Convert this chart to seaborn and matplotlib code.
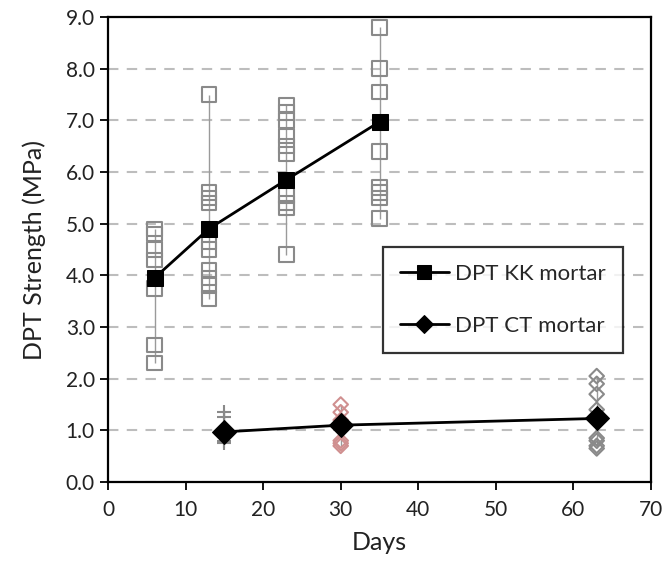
import matplotlib
matplotlib.use("Agg")
import matplotlib.pyplot as plt
import seaborn as sns
import pandas as pd
import numpy as np

# Individual DPT readings, KK mortar
kk_days = [6, 13, 23, 35]
kk_samples = [
    [4.9, 4.8, 4.5, 4.3, 3.75, 2.65, 2.3],
    [7.5, 5.6, 5.5, 5.4, 4.65, 4.5, 4.1, 3.95, 3.8, 3.55],
    [7.3, 7.15, 7.0, 6.7, 6.5, 6.35, 5.55, 5.4, 5.3, 4.4],
    [8.8, 8.0, 7.55, 6.4, 5.7, 5.6, 5.5, 5.1],
]
kk_mean = [3.95, 4.9, 5.85, 6.97]

# Individual DPT readings, CT mortar
ct_days = [15, 30, 63]
ct_samples = [
    [1.35, 1.25, 0.95, 0.8, 0.75],
    [1.5, 1.35, 1.2, 0.8, 0.75, 0.7],
    [2.05, 1.9, 1.7, 1.4, 1.25, 0.85, 0.8, 0.7, 0.65],
]
ct_mean = [0.97, 1.1, 1.23]
ct_colors = ["#8a8a8a", "#d09090", "#8a8a8a"]
ct_markers = ["+", "D", "D"]

y_ticks = [0, 1, 2, 3, 4, 5, 6, 7, 8, 9]
x_ticks = [0, 10, 20, 30, 40, 50, 60, 70]

sns.set_theme(style="white")
plt.rcParams["font.family"] = ["Lato", "DejaVu Sans"]

fig = plt.figure(figsize=(6.67, 5.65), dpi=100)
ax = fig.add_axes([108 / 667, 1 - 482 / 565, (651 - 108) / 667, (482 - 17) / 565])

# range lines behind each group of readings
for d, s in zip(kk_days, kk_samples):
    ax.vlines(d, min(s), max(s), color="#9a9a9a", lw=1.0, zorder=1)
for d, s in zip(ct_days, ct_samples):
    ax.vlines(d, min(s), max(s), color="#9a9a9a", lw=1.0, zorder=1)

kk_df = pd.DataFrame(
    [(d, v) for d, s in zip(kk_days, kk_samples) for v in s], columns=["Days", "DPT"]
)
sns.scatterplot(data=kk_df, x="Days", y="DPT", ax=ax, marker="s", s=110,
                facecolor="none", edgecolor="#8a8a8a", linewidth=1.5, zorder=2)

for d, s, c, m in zip(ct_days, ct_samples, ct_colors, ct_markers):
    df = pd.DataFrame({"Days": [d] * len(s), "DPT": s})
    if m == "+":
        sns.scatterplot(data=df, x="Days", y="DPT", ax=ax, marker="+", s=110,
                        color=c, linewidth=1.5, zorder=2)
    else:
        sns.scatterplot(data=df, x="Days", y="DPT", ax=ax, marker="D", s=55,
                        facecolor="none", edgecolor=c, linewidth=1.5, zorder=2)

kk_mean_df = pd.DataFrame({"Days": kk_days, "DPT": kk_mean})
ct_mean_df = pd.DataFrame({"Days": ct_days, "DPT": ct_mean})
sns.lineplot(data=kk_mean_df, x="Days", y="DPT", ax=ax, color="black", lw=2,
             marker="s", markersize=12, markeredgecolor="black",
             label="DPT KK mortar", zorder=3)
sns.lineplot(data=ct_mean_df, x="Days", y="DPT", ax=ax, color="black", lw=2,
             marker="D", markersize=12, markeredgecolor="black",
             label="DPT CT mortar", zorder=3)

ax.set_xlim(0, 70)
ax.set_ylim(0, 9)
ax.set_xticks(x_ticks)
ax.set_yticks(y_ticks)
ax.set_yticklabels([f"{v:.1f}" for v in y_ticks])
ax.yaxis.grid(True, linestyle=(0, (5, 4)), color="#bdbdbd", lw=1.5)
ax.set_axisbelow(True)
for sp in ax.spines.values():
    sp.set_color("black")
    sp.set_linewidth(1.6)
ax.tick_params(axis="both", direction="out", length=6, width=1.3, color="black",
               labelsize=15, labelcolor="#222222", left=True, bottom=True)
ax.tick_params(axis="x", pad=7)
ax.set_xlabel("Days", fontsize=18, color="#222222", labelpad=8)
ax.set_ylabel("DPT Strength (MPa)", fontsize=18, color="#222222", labelpad=14)

leg = ax.legend(loc="upper left", bbox_to_anchor=((383 - 108) / 543, (482 - 247) / 465),
                borderaxespad=0, fontsize=16, frameon=True, fancybox=False,
                edgecolor="black", borderpad=0.75, labelspacing=1.45,
                handlelength=2.2, handletextpad=0.3, markerscale=0.8)
leg.get_frame().set_linewidth(1.6)

fig.savefig("out.png", dpi=100)
